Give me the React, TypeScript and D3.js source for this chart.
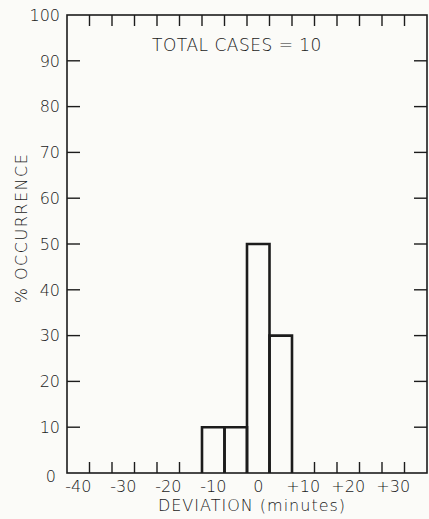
import React, { useEffect, useRef } from 'react';
import * as d3 from 'd3';

// Histogram bins (centre of each 5-minute bin) and % occurrence
const BIN_CENTERS = [-40, -35, -30, -25, -20, -15, -10, -5, 0, 5, 10, 15, 20, 25, 30, 35];
const PERCENTS = [0, 0, 0, 0, 0, 0, 10, 10, 50, 30, 0, 0, 0, 0, 0, 0];
const X_LABELS = [-40, -30, -20, -10, 0, 10, 20, 30];
const Y_TICKS = [0, 10, 20, 30, 40, 50, 60, 70, 80, 90, 100];
const TITLE = 'TOTAL CASES = 10';

export default function App() {
    const svgRef = useRef<SVGSVGElement>(null);

    useEffect(() => {
        if (!svgRef.current) return;
        document.body.style.margin = '0';

        const width = 429;
        const height = 519;
        const binW = 5;
        const ink = '#1c1c1c';
        const textInk = '#1a1a1a';
        const font = '"DejaVu Sans", sans-serif';

        const svg = d3.select(svgRef.current);
        svg.selectAll('*').remove();
        svg.attr('width', width).attr('height', height).attr('viewBox', `0 0 ${width} ${height}`);

        svg.append('rect').attr('width', width).attr('height', height).attr('fill', '#fbfbf8');

        const x = d3.scaleLinear()
            .domain([BIN_CENTERS[0] - binW / 2, BIN_CENTERS[BIN_CENTERS.length - 1] + binW / 2])
            .range([67, 427]);
        const y = d3.scaleLinear().domain([0, 100]).range([473, 15]);

        const [x0, x1] = x.range();
        const [y0, y1] = y.range();

        // Frame
        svg.append('rect')
            .attr('x', x0).attr('y', y1)
            .attr('width', x1 - x0).attr('height', y0 - y1)
            .attr('fill', 'none')
            .attr('stroke', ink)
            .attr('stroke-width', 1.6);

        // Bin-edge ticks on top and bottom
        const edges = BIN_CENTERS.slice(1).map(c => c - binW / 2);
        const tickLen = 11;
        svg.append('g').selectAll('line.top')
            .data(edges).enter().append('line')
            .attr('x1', d => x(d)).attr('x2', d => x(d))
            .attr('y1', y1).attr('y2', y1 + tickLen)
            .attr('stroke', ink).attr('stroke-width', 1.4);
        svg.append('g').selectAll('line.bot')
            .data(edges).enter().append('line')
            .attr('x1', d => x(d)).attr('x2', d => x(d))
            .attr('y1', y0).attr('y2', y0 - tickLen)
            .attr('stroke', ink).attr('stroke-width', 1.4);

        // Y ticks on left and right
        const inner = Y_TICKS.slice(1, -1);
        svg.append('g').selectAll('line.l')
            .data(inner).enter().append('line')
            .attr('x1', x0).attr('x2', x0 + 13)
            .attr('y1', d => y(d)).attr('y2', d => y(d))
            .attr('stroke', ink).attr('stroke-width', 1.4);
        svg.append('g').selectAll('line.r')
            .data(inner).enter().append('line')
            .attr('x1', x1).attr('x2', x1 - 13)
            .attr('y1', d => y(d)).attr('y2', d => y(d))
            .attr('stroke', ink).attr('stroke-width', 1.4);

        const label = (sel: d3.Selection<SVGTextElement, any, any, any>, size = 16) =>
            sel.style('font-family', font)
                .style('font-size', `${size}px`)
                .style('font-weight', 200)
                .attr('fill', textInk);

        // Y tick labels
        svg.append('g').selectAll('text')
            .data(Y_TICKS).enter().append('text')
            .attr('x', d => x0 - 7 - (d === 0 ? 4 : 0))
            .attr('y', d => y(d) + (d === 0 ? 3 : 0))
            .attr('dy', '0.36em')
            .attr('text-anchor', 'end')
            .call(label)
            .text(d => d);

        // X tick labels (bin centres)
        svg.append('g').selectAll('text')
            .data(X_LABELS).enter().append('text')
            .attr('x', d => x(d))
            .attr('y', 492)
            .attr('text-anchor', 'middle')
            .call(label)
            .text(d => (d > 0 ? `+${d}` : `${d}`));

        // Bars
        const bins = BIN_CENTERS.map((c, i) => ({ c, v: PERCENTS[i] })).filter(d => d.v > 0);
        svg.append('g').selectAll('path')
            .data(bins).enter().append('path')
            .attr('d', d => {
                const l = x(d.c - binW / 2);
                const r = x(d.c + binW / 2);
                return `M${l},${y(0)}V${y(d.v)}H${r}V${y(0)}`;
            })
            .attr('fill', 'none')
            .attr('stroke', ink)
            .attr('stroke-width', 2.6);

        // Title
        svg.append('text')
            .attr('x', 237).attr('y', 51)
            .attr('text-anchor', 'middle')
            .style('letter-spacing', '0.5px')
            .call(label, 17)
            .text(TITLE);

        // Axis titles
        svg.append('text')
            .attr('x', 252).attr('y', 511)
            .attr('text-anchor', 'middle')
            .style('letter-spacing', '1px')
            .call(label)
            .text('DEVIATION (minutes)');

        svg.append('text')
            .attr('transform', `translate(27,228) rotate(-90)`)
            .attr('text-anchor', 'middle')
            .style('letter-spacing', '1.5px')
            .call(label)
            .text('% OCCURRENCE');
    }, []);

    return <svg ref={svgRef} style={{ display: 'block' }} />;
}
